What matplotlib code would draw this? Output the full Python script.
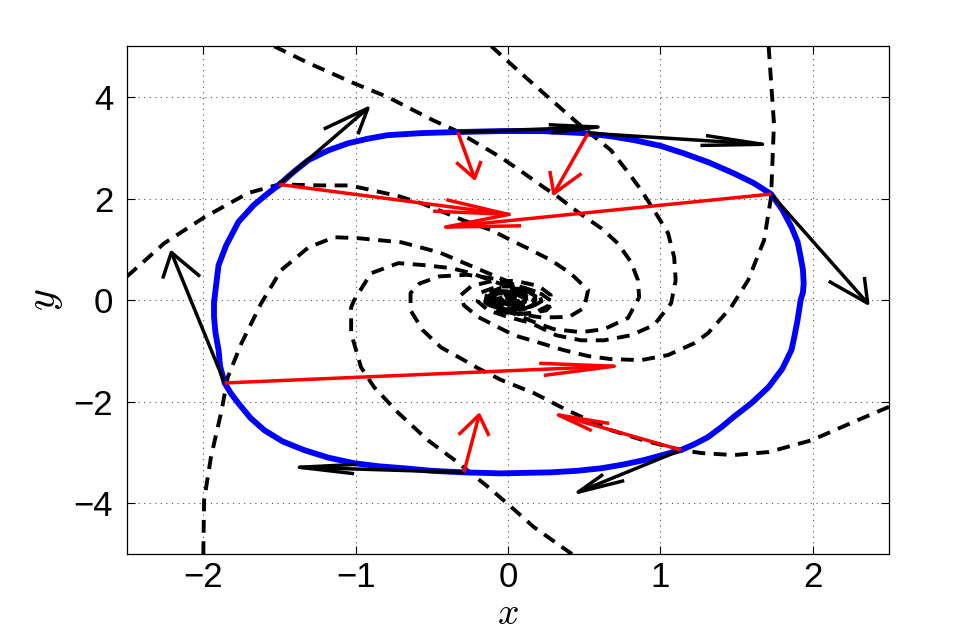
import numpy as np
import matplotlib.pyplot as plt

plt.rcParams['font.family'] = ['Liberation Sans', 'DejaVu Sans']
plt.rcParams['mathtext.fontset'] = 'cm'

# closed orbit (blue), clockwise from the upper-left arrow point
cycle_x = [-1.50, -1.41, -1.31, -1.18, -1.05, -0.92, -0.79, -0.57, -0.35, -0.05, 0.22, 0.50,
           0.67, 0.83, 1.00, 1.155, 1.32, 1.48, 1.61, 1.726, 1.80, 1.86, 1.90, 1.92, 1.935,
           1.94, 1.935, 1.92, 1.90, 1.88, 1.86, 1.80, 1.71, 1.60, 1.48, 1.40, 1.31, 1.22,
           1.135, 1.00, 0.89, 0.75, 0.61, 0.45, 0.28, -0.05, -0.29, -0.50, -0.68, -0.85,
           -1.01, -1.18, -1.34, -1.48, -1.60, -1.69, -1.77, -1.82, -1.86, -1.89, -1.90,
           -1.92, -1.93, -1.93, -1.92, -1.90, -1.85, -1.77, -1.67, -1.59, -1.50]
cycle_y = [2.28, 2.52, 2.76, 2.95, 3.09, 3.18, 3.25, 3.29, 3.31, 3.33, 3.33, 3.29,
           3.23, 3.15, 3.04, 2.89, 2.71, 2.50, 2.31, 2.09, 1.78, 1.44, 1.15, 0.85, 0.60,
           0.33, 0.15, 0.00, -0.39, -0.70, -0.98, -1.35, -1.71, -2.02, -2.30, -2.50, -2.70, -2.84,
           -2.95, -3.06, -3.15, -3.24, -3.31, -3.36, -3.39, -3.41, -3.39, -3.36, -3.31, -3.27,
           -3.21, -3.10, -2.95, -2.78, -2.56, -2.32, -2.03, -1.83, -1.63, -1.30, -0.98,
           -0.65, -0.33, -0.05, 0.20, 0.69, 1.08, 1.54, 1.87, 2.07, 2.28]

# dashed trajectories spiralling into the origin
traj_A = [(-1.535, 5.0), (-1.31, 4.67), (-1.01, 4.27), (-0.79, 4.0), (-0.49, 3.54), (-0.35, 3.35),
          (-0.046, 2.81), (0.085, 2.54), (0.236, 2.22), (0.33, 2.03), (0.46, 1.73), (0.61, 1.42),
          (0.72, 1.12), (0.807, 0.75), (0.853, 0.39), (0.86, 0.06), (0.787, -0.35), (0.63, -0.57),
          (0.479, -0.63), (0.30, -0.57), (0.17, -0.43), (0.02, -0.24), (-0.12, -0.05), (-0.15, 0.12),
          (-0.05, 0.24), (0.10, 0.22), (0.18, 0.08), (0.15, -0.08), (0.05, -0.13), (-0.05, -0.08),
          (-0.07, 0.03), (0.0, 0.07), (0.04, 0.02), (0.0, 0.0)]
traj_B = [(-0.11, 5.0), (0.085, 4.47), (0.236, 4.07), (0.46, 3.48), (0.676, 2.95), (0.787, 2.52),
          (0.873, 2.17), (0.958, 1.77), (1.05, 1.32), (1.09, 0.85), (1.10, 0.39), (1.07, -0.06),
          (0.958, -0.49), (0.807, -0.69), (0.63, -0.79), (0.479, -0.79), (0.315, -0.69),
          (0.151, -0.45), (0.0, -0.33), (-0.13, -0.2), (-0.2, -0.02), (-0.18, 0.15), (-0.07, 0.27),
          (0.08, 0.27), (0.2, 0.15), (0.22, -0.02), (0.14, -0.16), (0.02, -0.2), (-0.09, -0.12),
          (-0.12, 0.02), (-0.07, 0.13), (0.04, 0.14), (0.1, 0.05), (0.08, -0.05), (0.01, -0.08),
          (-0.04, -0.03), (-0.02, 0.04), (0.02, 0.03), (0.0, 0.0)]
traj_C = [(1.71, 5.0), (1.745, 3.48), (1.726, 2.03), (1.68, 1.18), (1.575, 0.39), (1.463, -0.14),
          (1.312, -0.65), (1.22, -0.85), (1.05, -1.08), (0.873, -1.18), (0.676, -1.16),
          (0.525, -1.10), (0.361, -0.98), (0.197, -0.83), (0.039, -0.69), (-0.066, -0.53),
          (-0.197, -0.33), (-0.29, -0.10), (-0.31, 0.10), (-0.24, 0.28), (-0.1, 0.38), (0.05, 0.38),
          (0.2, 0.28), (0.28, 0.1), (0.27, -0.1), (0.18, -0.24), (0.05, -0.28), (-0.07, -0.2),
          (-0.15, -0.05), (-0.14, 0.1), (-0.06, 0.18), (0.06, 0.17), (0.13, 0.06), (0.12, -0.05),
          (0.04, -0.11), (-0.04, -0.08), (-0.07, 0.0), (-0.03, 0.07), (0.03, 0.06), (0.05, 0.0),
          (0.0, -0.03), (0.0, 0.0)]
traj_L = [(-2.5, 0.47), (-2.257, 1.12), (-1.995, 1.63), (-1.706, 2.11), (-1.503, 2.28),
          (-1.227, 2.26), (-1.04, 2.26), (-0.9, 2.17), (-0.72, 2.05), (-0.57, 1.91), (-0.42, 1.73),
          (-0.29, 1.57), (-0.11, 1.38), (0.02, 1.18), (0.13, 1.02), (0.28, 0.79), (0.41, 0.53),
          (0.525, 0.2), (0.50, -0.15), (0.40, -0.33), (0.22, -0.34), (0.02, -0.25), (-0.12, -0.1),
          (-0.15, 0.05), (-0.08, 0.16), (0.04, 0.17), (0.12, 0.08), (0.11, -0.04), (0.04, -0.1),
          (-0.04, -0.06), (-0.06, 0.02), (0.0, 0.06), (0.04, 0.02), (0.0, 0.0)]
traj_D = [(-2.0, -5.0), (-1.995, -3.94), (-1.95, -3.09), (-1.88, -2.17), (-1.84, -1.52),
          (-1.75, -0.85), (-1.62, -0.06), (-1.49, 0.59), (-1.31, 1.04), (-1.14, 1.24), (-0.98, 1.22),
          (-0.70, 1.14), (-0.45, 0.94), (-0.20, 0.62), (0.085, 0.26), (0.22, 0.12), (0.3, -0.05),
          (0.25, -0.2), (0.12, -0.27), (-0.02, -0.22), (-0.12, -0.08), (-0.12, 0.07), (-0.04, 0.15),
          (0.07, 0.13), (0.12, 0.03), (0.08, -0.07), (0.0, -0.08), (-0.04, -0.02), (0.0, 0.03),
          (0.0, 0.0)]
traj_E = [(0.42, -5.0), (0.17, -4.47), (0.02, -4.07), (-0.13, -3.68), (-0.35, -3.15), (-0.525, -2.76),
          (-0.72, -2.22), (-0.88, -1.71), (-0.965, -1.32), (-1.03, -0.65), (-1.03, -0.14),
          (-1.01, 0.0), (-0.9, 0.53), (-0.72, 0.73), (-0.55, 0.69), (-0.37, 0.63), (-0.24, 0.53),
          (-0.11, 0.39), (-0.03, 0.30), (0.1, 0.18), (0.18, 0.02), (0.16, -0.12), (0.06, -0.18),
          (-0.05, -0.13), (-0.1, -0.02), (-0.06, 0.08), (0.03, 0.1), (0.08, 0.03), (0.05, -0.05),
          (-0.01, -0.06), (-0.04, -0.01), (0.0, 0.03), (0.0, 0.0)]
traj_F = [(2.5, -2.1), (2.25, -2.42), (1.99, -2.76), (1.71, -2.99), (1.48, -3.05), (1.27, -3.01),
          (1.135, -2.95), (0.89, -2.76), (0.676, -2.56), (0.39, -2.17), (0.17, -1.83),
          (-0.046, -1.57), (-0.197, -1.34), (-0.29, -1.18), (-0.44, -0.93), (-0.56, -0.59),
          (-0.64, -0.2), (-0.64, 0.14), (-0.58, 0.33), (-0.45, 0.47), (-0.27, 0.5), (-0.08, 0.42),
          (0.07, 0.28), (0.17, 0.1), (0.18, -0.07), (0.1, -0.18), (-0.02, -0.18), (-0.1, -0.09),
          (-0.1, 0.03), (-0.03, 0.11), (0.05, 0.1), (0.09, 0.02), (0.05, -0.05), (-0.01, -0.06),
          (-0.03, 0.0), (0.0, 0.0)]
trajectories = [traj_A, traj_B, traj_C, traj_L, traj_D, traj_E, traj_F]

# arrow bases on the orbit, velocity tips (black) and acceleration tips (red)
base_pts = [(-1.503, 2.28), (-0.33, 3.31), (0.525, 3.29), (1.726, 2.09),
            (1.135, -2.95), (-0.29, -3.39), (-1.86, -1.63)]
vel_tips = [(-0.92, 3.78), (0.59, 3.41), (1.67, 3.07), (2.36, -0.06),
            (0.46, -3.78), (-1.37, -3.29), (-2.21, 0.94)]
acc_tips = [(0.0, 1.69), (-0.22, 2.4), (0.30, 2.1), (-0.41, 1.44),
            (0.33, -2.26), (-0.19, -2.26), (0.697, -1.30)]


def draw_arrow(ax, p, q, color):
    p = np.array(p)
    q = np.array(q)
    d = q - p
    L = np.hypot(d[0], d[1])
    u = d / L
    n = np.array([-u[1], u[0]])
    h = min(0.33 * L, 0.47)
    b1 = q - h * u + 0.25 * h * n
    b2 = q - h * u - 0.25 * h * n
    ax.plot([p[0], q[0]], [p[1], q[1]], color=color, lw=2.5, solid_capstyle='butt')
    ax.plot([b1[0], q[0], b2[0]], [b1[1], q[1], b2[1]], color=color, lw=2.5)


fig = plt.figure(figsize=(9.78, 6.34), dpi=100)
ax = fig.add_axes([0.130, 0.126, 0.779, 0.801])

for tr in trajectories:
    tr = np.array(tr)
    ax.plot(tr[:, 0], tr[:, 1], color='black', lw=2.8, ls=(0, (3.3, 2.2)))

ax.plot(cycle_x, cycle_y, color='#0000ff', lw=4.2, solid_joinstyle='round')

for p, q in zip(base_pts, vel_tips):
    draw_arrow(ax, p, q, 'black')
for p, q in zip(base_pts, acc_tips):
    draw_arrow(ax, p, q, '#ff0000')

ax.set_xlim(-2.5, 2.5)
ax.set_ylim(-5, 5)
ax.set_xticks([-2, -1, 0, 1, 2])
ax.set_yticks([-4, -2, 0, 2, 4])
ax.grid(True, ls=(0, (1, 4)), color='#555555', lw=0.8)
ax.tick_params(direction='in', top=True, right=True, labelsize=25, length=6, width=0.8)
ax.tick_params(axis='x', pad=5)
ax.tick_params(axis='y', pad=10)
for s in ax.spines.values():
    s.set_linewidth(0.9)
ax.set_xlabel(r'$x$', fontsize=27)
ax.set_ylabel(r'$y$', fontsize=30)
ax.xaxis.set_label_coords(0.5, -0.083)
ax.yaxis.set_label_coords(-0.082, 0.5)

fig.savefig('out.png', dpi=100)
